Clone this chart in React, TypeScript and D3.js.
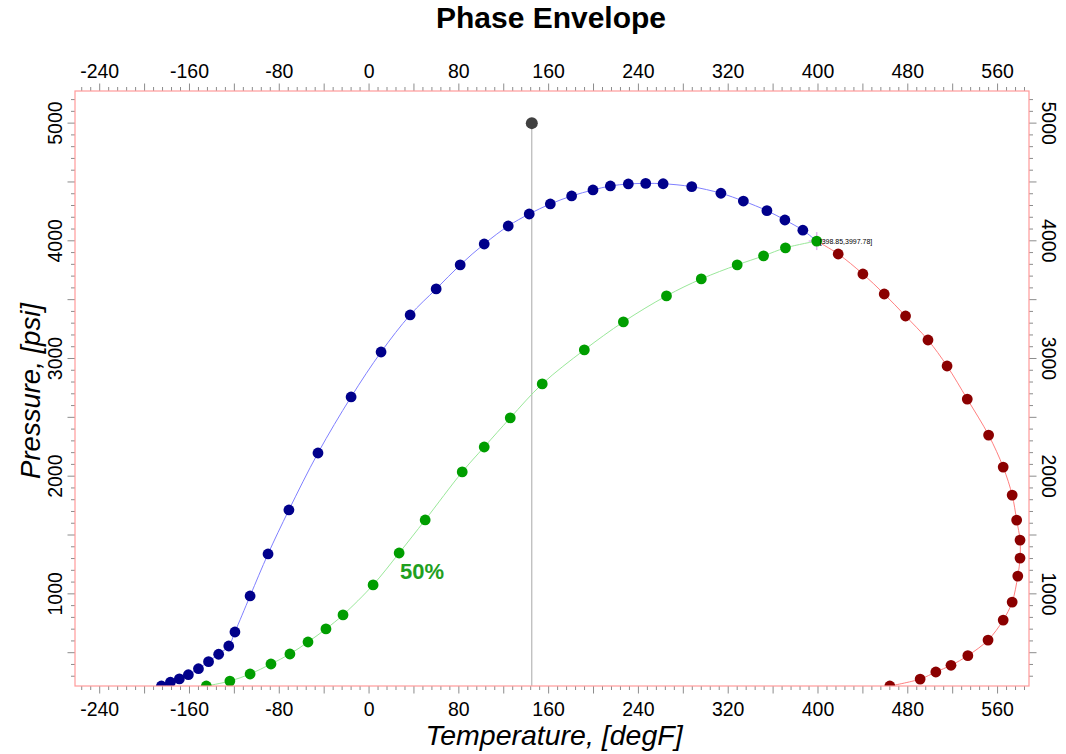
import React, { useEffect, useRef } from "react";
import * as d3 from "d3";

// bubble point curve (T degF, P psi)
const bubbleT = [-185, -177, -169, -161, -152, -143, -134, -125, -119.5, -106, -90, -71.4, -45.5, -16, 10.7, 36.6, 59.8, 81.2, 102.6, 124, 142.7, 161.5, 180.5, 199.5, 215, 231, 246.5, 262, 287.5, 313.5, 333.5, 354.5, 370.5, 386.5];
const bubbleP = [217, 249, 277, 313, 364, 424, 487, 557, 676, 982, 1339, 1713, 2197, 2673, 3055, 3370, 3591, 3795, 3973, 4126, 4228, 4313, 4381, 4432, 4466, 4483, 4488, 4485, 4460, 4404, 4338, 4256, 4177, 4090];

// dew point curve
const dewT = [418, 440, 459, 478, 498, 515, 533, 552, 565, 573, 577, 580, 580, 578, 573, 565, 551.5, 533.5, 518.5, 505, 491, 464];
const dewP = [3888, 3718, 3548, 3361, 3157, 2936, 2655, 2349, 2077, 1839, 1627, 1457, 1304, 1151, 930, 777, 607, 475, 393, 336, 276, 217];

// 50% quality line
const q50T = [-145, -124, -106, -87.4, -70.5, -54.4, -38.4, -23.2, 3.6, 26.8, 50, 83, 102.6, 125.8, 154.3, 191.8, 226.6, 265, 296, 328, 351.5, 371];
const q50P = [217, 259, 319, 404, 489, 591, 702, 821, 1076, 1347, 1628, 2036, 2248, 2495, 2784, 3073, 3311, 3532, 3676, 3795, 3872, 3940];

const critical = { t: 398.85, p: 3997.78 };
const reservoir = { t: 145, p: 5000 };

const width = 1066;
const height = 754;
const margin = { top: 91, right: 37, bottom: 68, left: 75 };

export default function App() {
  const ref = useRef<SVGSVGElement>(null);

  useEffect(() => {
    const svg = d3.select(ref.current);
    svg.selectAll("*").remove();

    const iw = width - margin.left - margin.right;
    const ih = height - margin.top - margin.bottom;

    const x = d3.scaleLinear().domain([-262, 588]).range([margin.left, margin.left + iw]);
    const y = d3.scaleLinear().domain([217, 5273]).range([margin.top + ih, margin.top]);

    const font = "'Liberation Sans', Arial, sans-serif";

    svg
      .append("defs")
      .append("clipPath")
      .attr("id", "plot-clip")
      .append("rect")
      .attr("x", margin.left)
      .attr("y", margin.top)
      .attr("width", iw)
      .attr("height", ih);

    // title
    svg
      .append("text")
      .attr("x", 551)
      .attr("y", 28)
      .attr("text-anchor", "middle")
      .attr("font-family", font)
      .attr("font-weight", "bold")
      .attr("font-size", 30)
      .text("Phase Envelope");

    // ticks
    const xMinor = d3.range(-256, 589, 8);
    const xMajor = d3.range(-240, 589, 80);
    const yMinor = d3.range(300, 5273, 100);
    const yMajor = d3.range(1000, 5273, 1000);

    const tickLen = (v: number, step: number) => (v % step === 0 ? 7.5 : 4);
    const tickColor = "#8c8c8c";

    const g = svg.append("g");

    // bottom + top ticks
    xMinor.forEach((v) => {
      const L = tickLen(v, 40);
      g.append("line")
        .attr("x1", x(v)).attr("x2", x(v))
        .attr("y1", margin.top + ih).attr("y2", margin.top + ih + L)
        .attr("stroke", tickColor);
      g.append("line")
        .attr("x1", x(v)).attr("x2", x(v))
        .attr("y1", margin.top).attr("y2", margin.top - L)
        .attr("stroke", tickColor);
    });
    // left + right ticks
    yMinor.forEach((v) => {
      const L = tickLen(v, 500);
      g.append("line")
        .attr("x1", margin.left).attr("x2", margin.left - L)
        .attr("y1", y(v)).attr("y2", y(v))
        .attr("stroke", tickColor);
      g.append("line")
        .attr("x1", margin.left + iw).attr("x2", margin.left + iw + L)
        .attr("y1", y(v)).attr("y2", y(v))
        .attr("stroke", tickColor);
    });

    // tick labels
    const tickFont = 19.5;
    xMajor.forEach((v) => {
      g.append("text")
        .attr("x", x(v)).attr("y", 78)
        .attr("text-anchor", "middle")
        .attr("font-family", font).attr("font-size", tickFont)
        .text(v);
      g.append("text")
        .attr("x", x(v)).attr("y", 716)
        .attr("text-anchor", "middle")
        .attr("font-family", font).attr("font-size", tickFont)
        .text(v);
    });
    yMajor.forEach((v) => {
      g.append("text")
        .attr("transform", `translate(62,${y(v)}) rotate(-90)`)
        .attr("text-anchor", "middle")
        .attr("font-family", font).attr("font-size", tickFont)
        .text(v);
      g.append("text")
        .attr("transform", `translate(1042,${y(v)}) rotate(90)`)
        .attr("text-anchor", "middle")
        .attr("font-family", font).attr("font-size", tickFont)
        .text(v);
    });

    // axis titles
    svg
      .append("text")
      .attr("x", 554)
      .attr("y", 745)
      .attr("text-anchor", "middle")
      .attr("font-family", font)
      .attr("font-style", "italic")
      .attr("font-size", 28.5)
      .text("Temperature, [degF]");
    svg
      .append("text")
      .attr("transform", "translate(40,391) rotate(-90)")
      .attr("text-anchor", "middle")
      .attr("font-family", font)
      .attr("font-style", "italic")
      .attr("font-size", 27.5)
      .text("Pressure, [psi]");

    const plot = svg.append("g").attr("clip-path", "url(#plot-clip)");

    // reservoir temperature line
    plot
      .append("line")
      .attr("x1", x(reservoir.t)).attr("x2", x(reservoir.t))
      .attr("y1", y(reservoir.p)).attr("y2", margin.top + ih)
      .attr("stroke", "#a8a8a8")
      .attr("stroke-width", 1);

    const line = d3
      .line<[number, number]>()
      .x((d) => x(d[0]))
      .y((d) => y(d[1]))
      .curve(d3.curveCatmullRom);

    const bubble: [number, number][] = bubbleT.map((t, i) => [t, bubbleP[i]]);
    bubble.push([critical.t, critical.p]);
    const dew: [number, number][] = [[critical.t, critical.p], ...dewT.map((t, i) => [t, dewP[i]] as [number, number])];
    const q50: [number, number][] = q50T.map((t, i) => [t, q50P[i]]);
    q50.push([critical.t, critical.p]);

    plot.append("path").attr("d", line(bubble)).attr("fill", "none").attr("stroke", "#8080ff").attr("stroke-width", 1);
    plot.append("path").attr("d", line(dew)).attr("fill", "none").attr("stroke", "#ff8080").attr("stroke-width", 1);
    plot.append("path").attr("d", line(q50)).attr("fill", "none").attr("stroke", "#9ae89a").attr("stroke-width", 1);

    // critical point cross
    const cx = x(critical.t);
    const cy = y(critical.p);
    plot.append("line").attr("x1", cx - 8).attr("x2", cx + 8).attr("y1", cy).attr("y2", cy).attr("stroke", "#e0b4f0").attr("stroke-width", 1.5);
    plot.append("line").attr("x1", cx).attr("x2", cx).attr("y1", cy - 9).attr("y2", cy + 9).attr("stroke", "#e0b4f0").attr("stroke-width", 1.5);

    const dots = (data: [number, number][], color: string) =>
      plot
        .append("g")
        .selectAll("circle")
        .data(data)
        .enter()
        .append("circle")
        .attr("cx", (d) => x(d[0]))
        .attr("cy", (d) => y(d[1]))
        .attr("r", 5.4)
        .style("fill", color);

    dots(bubble.slice(0, -1), "#00008b");
    dots(dew.slice(1), "#8b0000");
    dots(q50, "#009e00");

    // reservoir point
    plot
      .append("circle")
      .attr("cx", x(reservoir.t))
      .attr("cy", y(reservoir.p))
      .attr("r", 6)
      .style("fill", "#404040");

    // critical point label
    plot
      .append("text")
      .attr("x", cx + 3)
      .attr("y", cy + 2.5)
      .attr("font-family", font)
      .attr("font-size", 7)
      .attr("fill", "#000")
      .text(`[${critical.t},${critical.p}]`);

    // quality label
    svg
      .append("text")
      .attr("x", 400)
      .attr("y", 579)
      .attr("font-family", font)
      .attr("font-weight", "bold")
      .attr("font-size", 22)
      .attr("fill", "#1fa01f")
      .text("50%");

    // plot border
    svg
      .append("rect")
      .attr("x", margin.left)
      .attr("y", margin.top)
      .attr("width", iw)
      .attr("height", ih)
      .attr("fill", "none")
      .attr("stroke", "#ff9a9a")
      .attr("stroke-width", 1.2);
  }, []);

  return (
    <svg
      ref={ref}
      width={width}
      height={height}
      style={{ position: "absolute", left: 0, top: 0, background: "#fff" }}
    />
  );
}
